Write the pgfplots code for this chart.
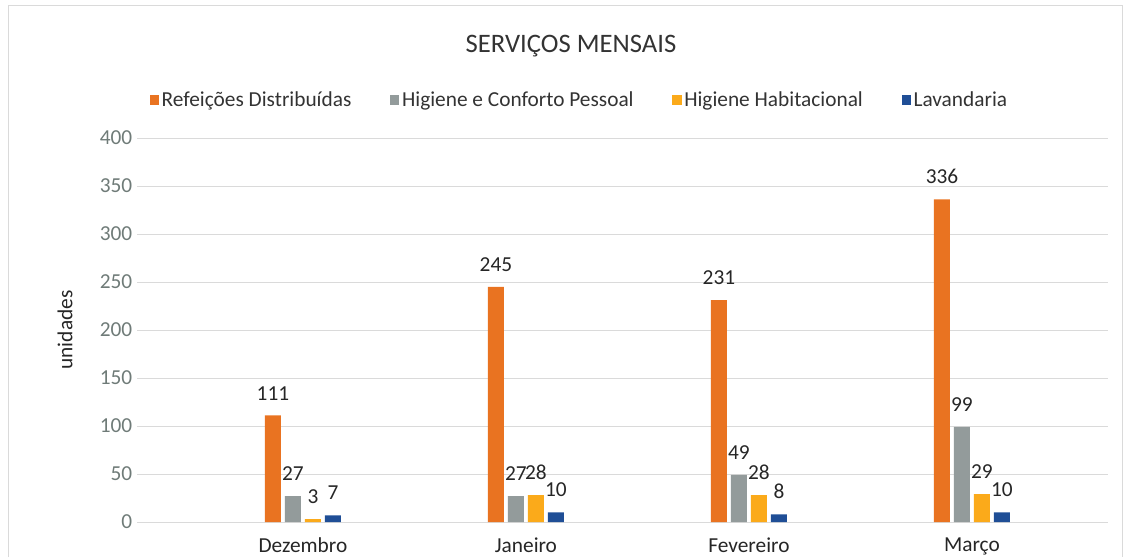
\documentclass[border=0pt]{standalone}
\usepackage{fontspec}
\setmainfont{Carlito}
\usepackage{pgfplots}
\pgfplotsset{compat=1.18}
\pgfkeys{/pgf/number format/assume math mode=true}
\definecolor{cOr}{HTML}{E97321}
\definecolor{cGr}{HTML}{939B9B}
\definecolor{cYe}{HTML}{FBAA1A}
\definecolor{cBl}{HTML}{1F4E96}
\definecolor{gridc}{HTML}{DADADA}
\definecolor{tickc}{HTML}{6F7B78}
\begin{document}
\begin{tikzpicture}[x=0.75pt,y=0.75pt]
\path[use as bounding box] (0,0) rectangle (1127,557);
\draw[gridc, line width=0.75pt] (8,0) -- (8,551) -- (1122,551) -- (1122,0);
\node[font=\fontsize{20}{24}\selectfont, text=black!80] at (571,511) {SERVIÇOS MENSAIS};
\begin{axis}[
  at={(102.75pt,26.25pt)}, anchor=south west,
  scale only axis, width=728.25pt, height=288pt,
  ybar=3pt, bar width=12pt,
  xmin=-0.744, xmax=3.61, ymin=0, ymax=400,
  xtick={0,1,2,3}, xticklabels={Dezembro,Janeiro,Fevereiro,Março},
  ytick={0,50,...,400},
  ymajorgrids, grid style={gridc, line width=0.75pt},
  axis lines*=left, axis line style={draw=none}, tick style={draw=none},
  yticklabel style={font=\fontsize{16}{19}\selectfont, text=tickc},
  xticklabel style={font=\fontsize{16}{19}\selectfont, text=black!85, yshift=-4pt},
  ylabel={unidades},
  ylabel style={font=\fontsize{16}{19}\selectfont, text=black!85, at={(axis description cs:-0.074,0.5)}, anchor=center, rotate=0},
  nodes near coords,
  every node near coord/.append style={font=\fontsize{16}{19}\selectfont, text=black!85, yshift=8pt},
  legend columns=4,
  legend style={at={(axis description cs:0.456,1.099)}, anchor=center, draw=none, fill=none,
    font=\fontsize{16}{19}\selectfont, text=black!80,
    /tikz/every even column/.append style={column sep=27pt}},
  legend image code/.code={\fill[#1] (0pt,-3.5pt) rectangle (7pt,3.5pt);},
]
\addplot[fill=cOr, draw=none] coordinates {(0,111) (1,245) (2,231) (3,336)};
\addplot[fill=cGr, draw=none] coordinates {(0,27) (1,27) (2,49) (3,99)};
\addplot[fill=cYe, draw=none] coordinates {(0,3) (1,28) (2,28) (3,29)};
\addplot[fill=cBl, draw=none] coordinates {(0,7) (1,10) (2,8) (3,10)};
\legend{Refeições Distribuídas, Higiene e Conforto Pessoal, Higiene Habitacional, Lavandaria}
\end{axis}
\end{tikzpicture}
\end{document}
